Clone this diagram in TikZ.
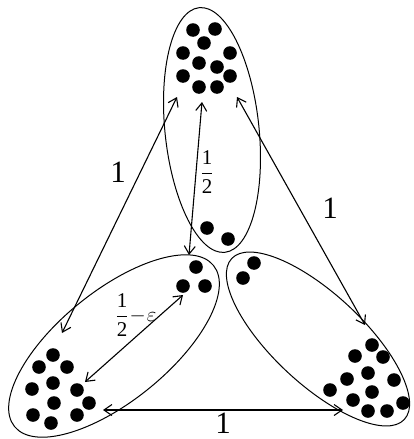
\documentclass[tikz,border=0pt]{standalone}
\usepackage{amsmath}
\usepackage{fontspec}
\setmainfont{Liberation Serif}
\usetikzlibrary{arrows.meta}
\tikzset{
  grp/.style={line width=1pt},
  dist/.style={<->,line width=1.1pt},
  lbl/.style={inner sep=0pt,font=\fontsize{31}{31}\selectfont},
  fr/.style={inner sep=0pt,font=\fontsize{21}{21}\selectfont},
}
\begin{document}
\begin{tikzpicture}[x=1pt,y=-1pt,>={Straight Barb[length=8pt,width=11pt]}]
\useasboundingbox (0,0) rectangle (414,439);
\draw[grp,rotate around={6:(212,130)}] (212,130) ellipse [x radius=47,y radius=123];
\draw[grp,rotate around={39:(114,346)}] (114,346) ellipse [x radius=128,y radius=55];
\draw[grp,rotate around={-43:(318,339)}] (318,339) ellipse [x radius=118,y radius=45];
\foreach \x/\y in {193/30,215/29,204/43,183/53,230/53,199/63,217/67,183/76,230/76,199/87,217/87,207/228,228/239}{\fill (\x,\y) circle(6.8);}
\foreach \x/\y in {196/267,183/286,205/286,53/355,39/367,67/367,53/383,32/389,77/390,54/403,89/403,33/415,77/415,51/423}{\fill (\x,\y) circle(6.8);}
\foreach \x/\y in {254/263,243/278,372/345,355/356,383/357,368/373,347/379,394/380,330/390,372/392,353/400,403/403,368/411,387/411}{\fill (\x,\y) circle(6.8);}
\coordinate (topA) at (177,97); \coordinate (leftA) at (62,333);
\coordinate (topB) at (202,102); \coordinate (midB) at (189,255);
\coordinate (topC) at (237,97); \coordinate (rightC) at (365,325);
\coordinate (leftD) at (85,382); \coordinate (pairD) at (183,295);
\coordinate (leftE) at (103,410); \coordinate (rightE) at (343,410);
\draw[dist] (topA)--(leftA);
\draw[dist] (topB)--(midB);
\draw[dist] (topC)--(rightC);
\draw[dist] (leftD)--(pairD);
\draw[dist] (leftE)--(rightE);
\node[lbl] (oneL) at (118,172) {1};
\node[lbl] (oneR) at (330,208) {1};
\node[lbl] (oneB) at (223,423) {1};
\node[fr] (half) at (207,172) {$\dfrac{\text{1}}{\text{2}}$};
\node[fr] (halfeps) at (136,315) {$\dfrac{\text{1}}{\text{2}}\!-\!\varepsilon$};
\end{tikzpicture}
\end{document}
